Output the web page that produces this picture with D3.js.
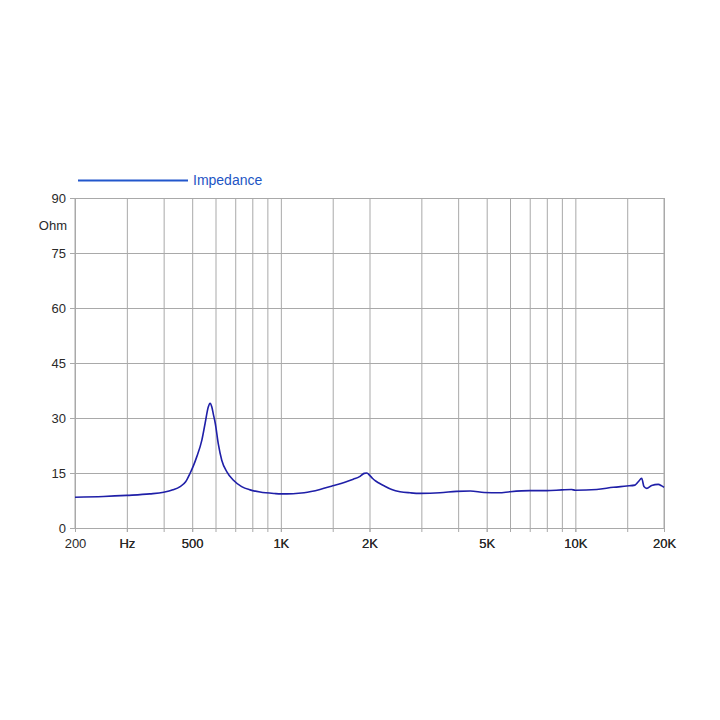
<!DOCTYPE html>
<html>
<head>
<meta charset="utf-8">
<script src="https://cdn.jsdelivr.net/npm/d3@7"></script>
<style>
html,body{margin:0;padding:0;background:#fff;}
svg{display:block;}
text{font-family:"Liberation Sans","DejaVu Sans",Arial,sans-serif;}
</style>
</head>
<body>
<svg id="chart" width="720" height="720"></svg>
<script>
const freqs = [200, 250, 300, 359, 400, 430, 455, 475, 491, 505, 518, 539, 553, 567, 575, 583, 590, 599, 613, 630, 655, 689, 736, 786, 850, 950, 1000, 1100, 1200, 1358, 1500, 1650, 1762, 1850, 1891, 1920, 1960, 2000, 2050, 2090, 2160, 2230, 2380, 2540, 2750, 2970, 3470, 3950, 4400, 4900, 5500, 6000, 7000, 8000, 9000, 9700, 10000, 11820, 13460, 14940, 15940, 16354, 16800, 17100, 17480, 18160, 19120, 19640, 20000];
const impedance = [8.4, 8.6, 8.9, 9.3, 9.75, 10.4, 11.3, 12.6, 14.8, 17.0, 19.4, 23.9, 28.5, 33.0, 34.0, 33.0, 31.0, 28.5, 23.0, 18.5, 15.4, 13.1, 11.3, 10.4, 9.8, 9.4, 9.3, 9.35, 9.6, 10.5, 11.5, 12.5, 13.3, 14.0, 14.6, 14.9, 15.0, 14.4, 13.5, 12.9, 12.2, 11.6, 10.5, 9.9, 9.6, 9.45, 9.6, 10.0, 10.1, 9.7, 9.6, 9.9, 10.2, 10.2, 10.4, 10.5, 10.3, 10.5, 11.1, 11.45, 11.7, 12.6, 13.55, 11.3, 10.8, 11.6, 11.9, 11.5, 11.1];

const xGridValues = [300, 400, 500, 600, 700, 800, 900, 1000, 1500, 2000, 3000, 4000, 5000, 6000, 7000, 8000, 9000, 10000, 15000, 20000];
const xLabelValues = [200, 300, 500, 1000, 2000, 5000, 10000, 20000];
const xLabelTexts = ["200", "Hz", "500", "1K", "2K", "5K", "10K", "20K"];
const yTickValues = [0, 15, 30, 45, 60, 75, 90];
const yUnit = "Ohm";
const seriesName = "Impedance";

(function () {
const svg = d3.select("#chart");
const pL = 75, pR = 664, pT = 198, pB = 528;
const x = d3.scaleLog().domain([200, 20000]).range([pL, pR]);
const y = d3.scaleLinear().domain([0, 90]).range([pB, pT]);
const gridColor = "#a9a9a9";
const textColor = "#2a2a2a";

// vertical grid
const gx = svg.append("g").attr("transform", `translate(0,${pB})`)
  .call(d3.axisBottom(x).tickValues(xGridValues).tickSizeInner(-(pB - pT)).tickSizeOuter(0).tickFormat(""));
gx.select(".domain").remove();
gx.selectAll("line").attr("stroke", gridColor).attr("stroke-width", 1);

// horizontal grid
const gy = svg.append("g").attr("transform", `translate(${pL},0)`)
  .call(d3.axisLeft(y).tickValues(yTickValues).tickSizeInner(-(pR - pL)).tickSizeOuter(0).tickFormat(""));
gy.select(".domain").remove();
gy.selectAll("line").attr("stroke", gridColor).attr("stroke-width", 1);

// frame
svg.append("line").attr("x1", pL).attr("x2", pL).attr("y1", pT).attr("y2", pB).attr("stroke", gridColor);
svg.append("line").attr("x1", pR).attr("x2", pR).attr("y1", pT).attr("y2", pB).attr("stroke", gridColor);

// x axis labels
const ax = svg.append("g").attr("transform", `translate(0,${pB})`)
  .call(d3.axisBottom(x).tickValues(xLabelValues.concat(xGridValues)).tickSizeInner(4).tickSizeOuter(0).tickPadding(7)
    .tickFormat(d => { const i = xLabelValues.indexOf(d); return i >= 0 ? xLabelTexts[i] : ""; }));
ax.select(".domain").attr("stroke", gridColor);
ax.selectAll("line").attr("stroke", gridColor);
ax.selectAll("text").attr("fill", textColor).attr("font-size", 13).attr("font-family", "Liberation Sans, Arial, sans-serif");

// y axis labels
const ay = svg.append("g").attr("transform", `translate(${pL},0)`)
  .call(d3.axisLeft(y).tickValues(yTickValues).tickSizeInner(5).tickSizeOuter(0).tickPadding(4));
ay.select(".domain").attr("stroke", gridColor);
ay.selectAll("line").attr("stroke", gridColor);
ay.selectAll("text").attr("fill", textColor).attr("font-size", 13).attr("font-family", "Liberation Sans, Arial, sans-serif");

svg.append("text").attr("x", pL - 8).attr("y", y(82.5)).attr("dy", "0.32em")
  .attr("text-anchor", "end").attr("fill", textColor).attr("font-size", 13).text(yUnit);

// curve
const line = d3.line().x((d, i) => x(freqs[i])).y(d => y(d)).curve(d3.curveMonotoneX);
svg.append("path").datum(impedance).attr("d", line)
  .attr("fill", "none").attr("stroke", "#1f1fa8").attr("stroke-width", 1.6);

// legend
svg.append("line").attr("x1", 78).attr("x2", 188).attr("y1", 180.5).attr("y2", 180.5)
  .attr("stroke", "#2257cc").attr("stroke-width", 2.2);
svg.append("text").attr("x", 193).attr("y", 185).attr("fill", "#1d55c4").attr("font-size", 14).text(seriesName);
})();
</script>
</body>
</html>
